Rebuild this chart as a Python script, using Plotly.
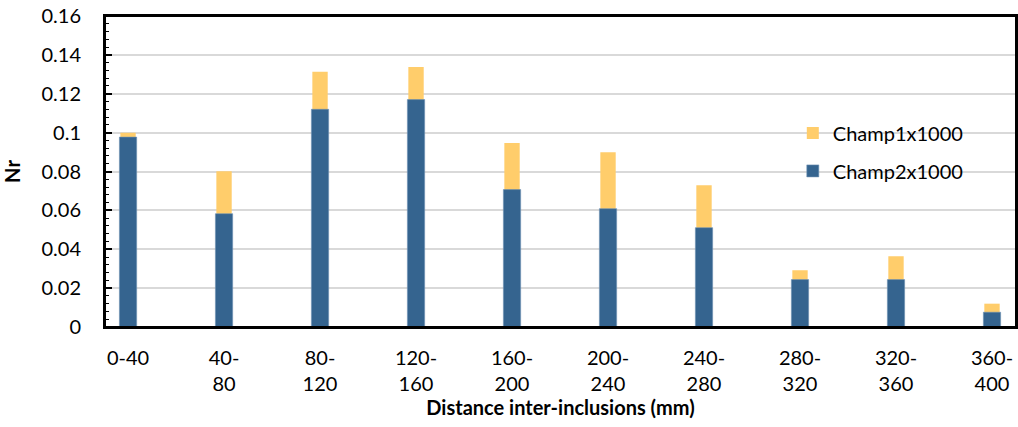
import plotly.graph_objects as go

categories = ["0-40", "40-80", "80-120", "120-160", "160-200",
              "200-240", "240-280", "280-320", "320-360", "360-400"]
tick_labels = ["0-40", "40-<br>80", "80-<br>120", "120-<br>160", "160-<br>200",
               "200-<br>240", "240-<br>280", "280-<br>320", "320-<br>360", "360-<br>400"]
champ1 = [0.0999, 0.0801, 0.1313, 0.1337, 0.0947, 0.0899, 0.0729, 0.0292, 0.0364, 0.0120]
champ2 = [0.0977, 0.0583, 0.1120, 0.1170, 0.0707, 0.0609, 0.0511, 0.0244, 0.0244, 0.0076]

FONT = "Lato, 'Open Sans', sans-serif"
FS = 20

fig = go.Figure()
fig.add_trace(go.Bar(x=categories, y=champ1, name="Champ1x1000", legend="legend",
                     marker=dict(color="#FFCD6B", line=dict(width=0)), width=0.16))
fig.add_trace(go.Bar(x=categories, y=champ2, name="Champ2x1000", legend="legend2",
                     marker=dict(color="#35648F", line=dict(color="#6f92b3", width=0.6)), width=0.18))

leg_common = dict(xanchor="left", yanchor="middle", bgcolor="rgba(0,0,0,0)",
                  font=dict(size=FS, family=FONT), itemwidth=30)

fig.update_layout(
    barmode="overlay",
    width=1018, height=427,
    margin=dict(l=105, r=2, t=16, b=100, autoexpand=False),
    paper_bgcolor="white", plot_bgcolor="white",
    font=dict(family=FONT, size=FS, color="black"),
    showlegend=True,
    legend=dict(x=0.755, y=0.624, **leg_common),
    legend2=dict(x=0.755, y=0.502, **leg_common),
    shapes=[dict(type="rect", xref="paper", yref="paper", x0=0, x1=1, y0=0, y1=1,
                 line=dict(color="black", width=2), layer="above")],
)
fig.update_xaxes(
    type="category", range=[-0.24, 9.25],
    tickmode="array", tickvals=categories, ticktext=tick_labels,
    showline=True, linecolor="black", linewidth=2, mirror=True,
    showgrid=False, ticks="", tickfont=dict(size=FS),
    ticklabelstandoff=12,
    automargin=False,
    title=dict(text="<b>Distance inter-inclusions (mm)</b>", font=dict(size=FS), standoff=0),
)
fig.update_yaxes(
    range=[0, 0.16], dtick=0.02, tickformat="~g",
    showline=True, linecolor="black", linewidth=2, mirror=True,
    showgrid=True, gridcolor="#d9d9d9", gridwidth=1.5,
    ticks="inside", ticklen=7, tickwidth=1.5, tickcolor="black",
    minor=dict(dtick=0.004, ticks="inside", ticklen=4, tickwidth=1.2, tickcolor="black", showgrid=False),
    ticklabelstandoff=18,
    ticklabeloverflow="allow",
    tickfont=dict(size=FS),
    zeroline=False,
    automargin=False,
    title=dict(text="<b>Nr</b>", font=dict(size=FS), standoff=18),
)

fig.write_html("out.html", config={"displayModeBar": False},
               post_script="document.body.style.margin='0';")
